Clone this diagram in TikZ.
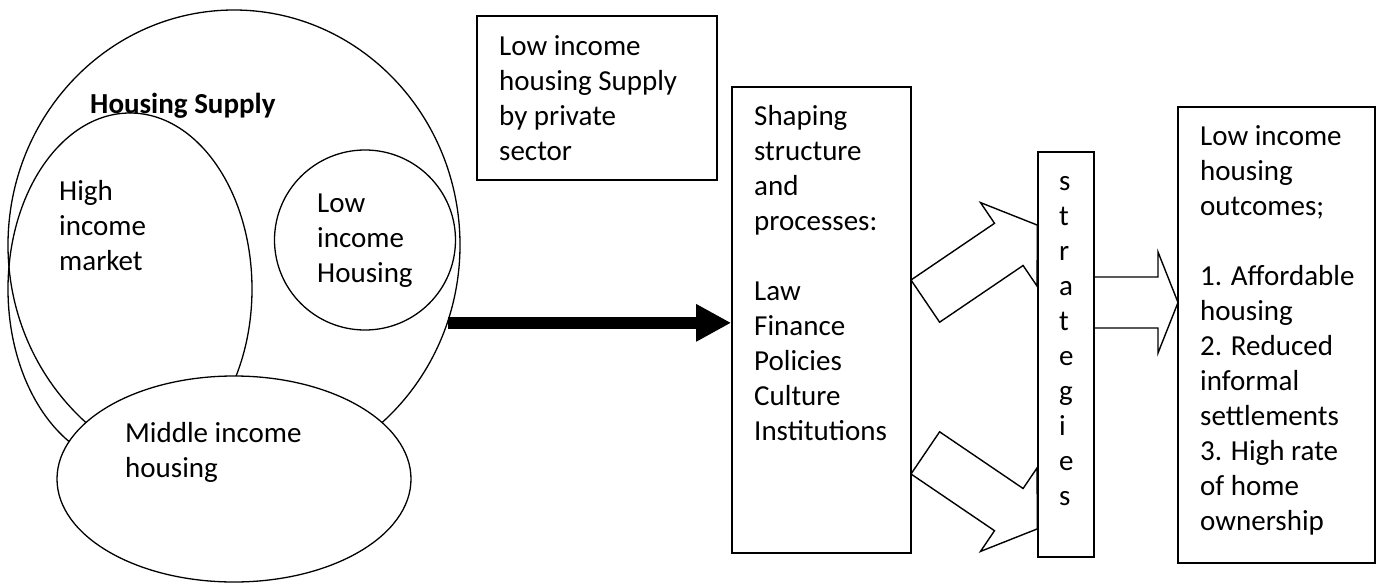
\documentclass[tikz,border=0pt]{standalone}
\usepackage{fontspec}
\setmainfont{Carlito}
\usetikzlibrary{shapes.geometric,arrows.meta}
\newcommand\myfs{\fontsize{29pt}{35pt}\selectfont}
\newcommand\mystrut{\rule{0pt}{24pt}}
\tikzset{
  ell/.style={ellipse, draw, line width=1.3pt, inner sep=0pt},
  boxn/.style={rectangle, draw, line width=1.6pt, fill=white, inner sep=0pt},
  txt/.style={anchor=north west, inner sep=0pt, align=left, font=\myfs},
  blockarrow/.style={draw, fill=white, line width=1.4pt, line join=miter},
  bigarrow/.style={line width=12pt, -{Triangle[length=35pt,width=35pt]}}
}
\begin{document}
\begin{tikzpicture}[x=1pt,y=-1pt]
\useasboundingbox (0,0) rectangle (1386,588);
% Venn-like housing supply
\node[ell, minimum width=452pt, minimum height=470pt] (supply) at (234,245) {};
\node[ell, minimum width=244pt, minimum height=352pt] (high) at (130,289) {};
\node[ell, minimum width=181pt, minimum height=180pt] (low) at (365,240) {};
\node[ell, fill=white, minimum width=354pt, minimum height=206pt] (middle) at (234,479) {};
\node[txt, font=\myfs\bfseries] (supplylbl) at (90,89) {\mystrut Housing Supply};
\node[txt] (highlbl) at (59,176) {\mystrut High\\income\\market};
\node[txt] (lowlbl) at (317,188) {\mystrut Low\\income\\Housing};
\node[txt] (middlelbl) at (125,418) {\mystrut Middle income\\housing};
% boxes
\node[boxn, minimum width=240pt, minimum height=164pt] (private) at (597,98) {};
\node[txt] (privatelbl) at (499,31) {\mystrut Low income\\housing Supply\\by private\\sector};
\node[boxn, minimum width=179pt, minimum height=466pt] (shaping) at (821.5,320) {};
\node[txt] (shapinglbl) at (754,101) {\mystrut Shaping\\structure\\and\\processes:\\[35pt]Law\\Finance\\Policies\\Culture\\Institutions};
% thick black arrow
\draw[bigarrow] (supply.-20.35) -- (supply.-20.35 -| shaping.west);
% block arrows to strategies
\path[blockarrow] (911,280) -- (994.5,223.3) -- (980.5,202.6) -- (1037.3,225.1) -- (1037.1,286.2) -- (1023.1,265.5) -- (939.6,322.2) -- cycle;
\path[blockarrow] (911,474) -- (994.5,530.7) -- (980.5,551.4) -- (1037.3,528.9) -- (1037.1,467.8) -- (1023.1,488.5) -- (939.6,431.8) -- cycle;
% right block arrow
\path[blockarrow] (1094,277) -- (1158,277) -- (1158,252) -- (1178,302.5) -- (1158,353) -- (1158,328) -- (1094,328) -- cycle;
\node[boxn, minimum width=56pt, minimum height=405pt] (strat) at (1066,354.5) {};
\node[txt] (stratlbl) at (1059,166) {\mystrut s\\t\\r\\a\\t\\e\\g\\i\\e\\s};
\node[boxn, minimum width=197pt, minimum height=456pt] (outcome) at (1276.5,335) {};
\node[txt] (outcomelbl) at (1200,121) {\mystrut Low income\\housing\\outcomes;\\[35pt]1. Affordable\\housing\\2. Reduced\\informal\\settlements\\3. High rate\\of home\\ownership};
\end{tikzpicture}
\end{document}
